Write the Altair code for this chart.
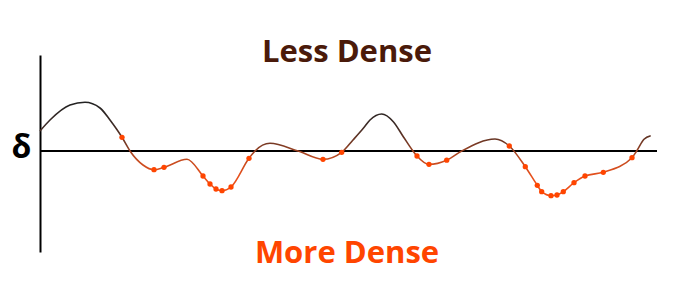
import altair as alt
import pandas as pd

# Curve: horizontal position, density deviation (delta), and whether a sample dot sits there
curve_x = [0, 10, 30, 45, 60, 70, 76.7, 82, 90, 103, 114, 124, 147, 163, 170, 176, 182, 191, 209, 215,
           230, 258, 283, 301.7, 313, 323.3, 330, 341.7, 353.3, 363.3, 373, 377, 389, 406.7, 421.7,
           455, 469.3, 485.3, 497.3, 501.7, 511, 517, 523.3, 534, 545, 563.3, 592, 596.7, 604, 610.7]
curve_y = [20, 31, 46, 48.7, 43, 31, 21.7, 13.7, 0, -14, -18.7, -16.3, -8.3, -25, -33, -38, -39.7, -36, -7.3, 0,
           7.7, 0, -8.3, -1.3, 11, 22.7, 31, 37, 29.3, 14.3, 0, -5, -13.3, -9.2, 0,
           12, 5, -15.7, -34.3, -40.7, -44.7, -44, -40.7, -31.7, -25, -21.3, -6.7, 0, 11.7, 15.3]
is_dot = [0, 0, 0, 0, 0, 0, 0, 1, 0, 0, 1, 1, 0, 1, 1, 1, 1, 1, 1, 0,
          0, 0, 1, 1, 0, 0, 0, 0, 0, 0, 0, 1, 1, 1, 0,
          0, 1, 1, 1, 1, 1, 1, 1, 1, 1, 1, 1, 0, 0, 0]

x_domain = [0, 617]
y_domain = [-101, 96]

top_label = "Less Dense"
bottom_label = "More Dense"
axis_label = "δ"

df = pd.DataFrame({"x": curve_x, "y": curve_y, "dot": is_dot})

FONT = "Open Sans"

xs = alt.Scale(domain=x_domain, nice=False, zero=False)
ys = alt.Scale(domain=y_domain, nice=False, zero=False)

base = alt.Chart(df)

line = base.mark_line(
    interpolate="monotone",
    strokeWidth=1.6,
    stroke=alt.Gradient(
        gradient="linear",
        x1=0, x2=0, y1=0, y2=1,
        stops=[
            alt.GradientStop(color="#222222", offset=0),
            alt.GradientStop(color="#3d2b26", offset=0.25),
            alt.GradientStop(color="#7a3a24", offset=0.45),
            alt.GradientStop(color="#c04a20", offset=0.6),
            alt.GradientStop(color="#e8501c", offset=0.8),
            alt.GradientStop(color="#f05018", offset=1),
        ],
    ),
).encode(
    x=alt.X("x:Q", scale=xs, axis=None),
    y=alt.Y(
        "y:Q",
        scale=ys,
        axis=alt.Axis(
            domain=True, domainColor="black", domainWidth=2,
            ticks=False, labels=False, grid=False,
            title=axis_label, titleAngle=0, titleAlign="center",
            titleBaseline="alphabetic", titleX=-19, titleY=102,
            titleFont=FONT, titleFontSize=32, titleFontWeight="bold",
            titleColor="black",
        ),
    ),
)

dots = base.transform_filter(alt.datum.dot == 1).mark_circle(
    size=28, color="#ff4500", opacity=1
).encode(x=alt.X("x:Q", scale=xs), y=alt.Y("y:Q", scale=ys))

zero_rule = alt.Chart().mark_rule(color="black", strokeWidth=2).encode(
    y=alt.datum(0)
)

top_text = alt.Chart().mark_text(
    text=top_label, font=FONT, fontSize=31, fontWeight="bold",
    color="#4a1a0a", align="center", baseline="alphabetic",
).encode(x=alt.datum(307), y=alt.datum(89))

bottom_text = alt.Chart().mark_text(
    text=bottom_label, font=FONT, fontSize=31, fontWeight="bold",
    color="#ff4500", align="center", baseline="alphabetic",
).encode(x=alt.datum(307), y=alt.datum(-112))

chart = alt.layer(zero_rule, line, dots, top_text, bottom_text).properties(
    width=617,
    height=197,
    padding={"left": 32, "top": 47, "right": 35, "bottom": 37},
    autosize=alt.AutoSizeParams(type="none"),
).configure_view(stroke=None)

chart.save("out.html", embed_options={"renderer": "svg", "actions": False})
